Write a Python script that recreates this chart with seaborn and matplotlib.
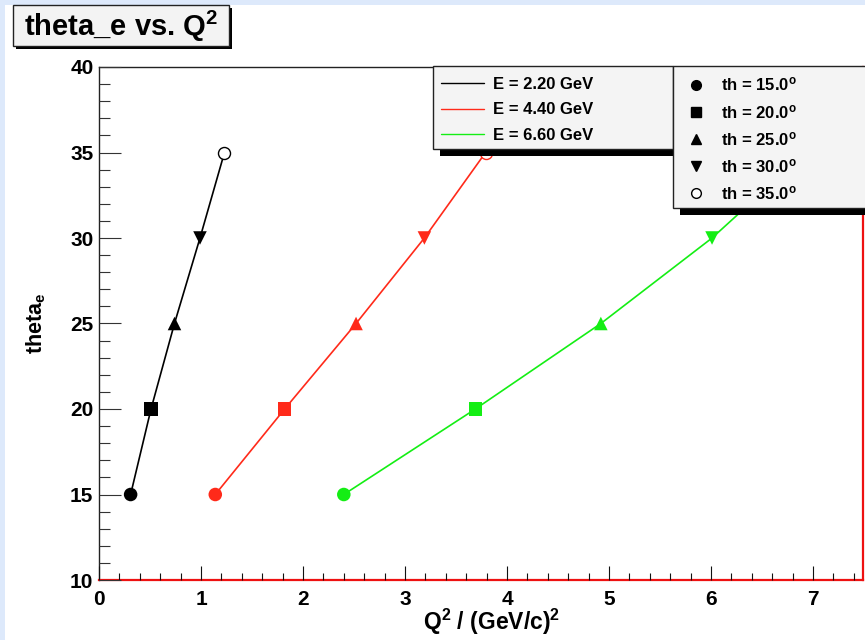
import numpy as np
import pandas as pd
import matplotlib
matplotlib.use("Agg")
import matplotlib.pyplot as plt
from matplotlib.lines import Line2D
from matplotlib.patches import Rectangle
import seaborn as sns

# beam energies (GeV) and scattering angles (deg)
energies = [2.2, 4.4, 6.6]
angles = [15.0, 20.0, 25.0, 30.0, 35.0]

# Q^2, one list per beam energy
q2_e22 = [0.31, 0.51, 0.74, 0.99, 1.23]
q2_e44 = [1.14, 1.82, 2.52, 3.19, 3.79]
q2_e66 = [2.40, 3.69, 4.92, 6.01, 6.93]

energy_colors = ["#000000", "#ff2a1a", "#14ee14"]
angle_markers = {15.0: "o", 20.0: "s", 25.0: "^", 30.0: "v"}

W, H = 865, 640


def px(x, y):
    """pixel position -> figure fraction"""
    return x / W, 1 - y / H


sns.set_theme(style="white")
plt.rcParams["font.family"] = ["Liberation Sans", "DejaVu Sans"]
plt.rcParams["font.weight"] = "bold"
plt.rcParams["text.color"] = "black"
plt.rcParams["axes.labelcolor"] = "black"
plt.rcParams["xtick.color"] = "black"
plt.rcParams["ytick.color"] = "black"
plt.rcParams["axes.axisbelow"] = False
plt.rcParams["mathtext.fontset"] = "custom"
plt.rcParams["mathtext.rm"] = "Liberation Sans:bold"
plt.rcParams["mathtext.it"] = "Liberation Sans:bold"
plt.rcParams["mathtext.bf"] = "Liberation Sans:bold"

rows = []
for e, q2s in zip(energies, [q2_e22, q2_e44, q2_e66]):
    for th, q in zip(angles, q2s):
        rows.append({"energy": e, "theta": th, "q2": q})
df = pd.DataFrame(rows)
palette = dict(zip(energies, energy_colors))

fig = plt.figure(figsize=(W / 100, H / 100), dpi=100, facecolor="#dde9fb")
fig.patches.append(Rectangle(px(5, 640), 1, 1 - 5 / H, transform=fig.transFigure,
                             facecolor="white", edgecolor="none", zorder=-10))

x0, y0 = px(99, 580)
x1, y1 = px(863, 67)
ax = fig.add_axes([x0, y0, x1 - x0, y1 - y0])
ax.set_facecolor("white")

sns.lineplot(data=df, x="q2", y="theta", hue="energy", palette=palette,
             sort=False, legend=False, linewidth=1.2, ax=ax, zorder=2)
sns.scatterplot(data=df[df["theta"] < 35], x="q2", y="theta", hue="energy",
                style="theta", markers=angle_markers, palette=palette,
                s=95, linewidth=0, legend=False, ax=ax, zorder=3)
for e in energies:
    sub = df[(df["energy"] == e) & (df["theta"] == 35.0)]
    ax.scatter(sub["q2"], sub["theta"], s=75, facecolors="white",
               edgecolors=palette[e], linewidths=1.0, zorder=3)

ax.set_xlim(0, 7.49)
ax.set_ylim(10, 40)
ax.set_xticks(np.arange(0, 8, 1))
ax.set_xticks(np.arange(0, 7.5, 0.2), minor=True)
ax.set_yticks(np.arange(10, 41, 5))
ax.set_yticks(np.arange(10, 41, 1), minor=True)
ax.tick_params(bottom=True, left=True, top=False, right=False, which="both")
ax.tick_params(axis="y", which="major", direction="in", length=16, width=0.8,
               color="#333333", labelsize=15, pad=4)
ax.tick_params(axis="y", which="minor", direction="in", length=8, width=0.8,
               color="#333333")
ax.tick_params(axis="x", which="major", direction="in", length=10, width=0.8,
               color="#111111", labelsize=15, pad=7)
ax.tick_params(axis="x", which="minor", direction="in", length=5, width=0.8,
               color="#111111")
for lab in ax.get_xticklabels() + ax.get_yticklabels():
    lab.set_fontweight("bold")

for side in ["left", "top"]:
    ax.spines[side].set_color("#222222")
    ax.spines[side].set_linewidth(1.0)
for side in ["bottom", "right"]:
    ax.spines[side].set_color("#ee1111")
    ax.spines[side].set_linewidth(1.6)

ax.set_xlabel("Q$^2$ / (GeV/c)$^2$", fontsize=16.5, fontweight="bold")
ax.xaxis.set_label_coords((492 - 99) / 764, (580 - 607) / 513)
ax.set_ylabel("theta$_e$", fontsize=15.5, fontweight="bold")
ax.yaxis.set_label_coords((48 - 99) / 764, 0.5)


def shadow_box(xa, ya, xb, yb, off, face):
    sx, sy = px(xa + off, yb + off)
    bx, by = px(xa, yb)
    w, h = (xb - xa) / W, (yb - ya) / H
    fig.patches.append(Rectangle((sx, sy), w, h, transform=fig.transFigure,
                                 facecolor="black", edgecolor="none", zorder=6))
    fig.patches.append(Rectangle((bx, by), w, h, transform=fig.transFigure,
                                 facecolor=face, edgecolor="#222222",
                                 linewidth=1.0, zorder=6))


# title box with shadow
shadow_box(13, 5, 229, 46, 3, "#f3f3f3")
fig.text(*px(121, 26), "theta_e vs. Q$^2$", fontsize=21, fontweight="bold",
         ha="center", va="center", zorder=7)

# legend boxes
shadow_box(433, 66, 673, 149, 7, "#f4f4f4")
shadow_box(673, 66, 880, 208, 7, "#f4f4f4")

e_handles = [Line2D([], [], color=c, lw=1.0) for c in energy_colors]
e_labels = [f"E = {e:.2f} GeV" for e in energies]
leg1 = fig.legend(e_handles, e_labels, loc="center left",
                  bbox_to_anchor=px(441, 110), bbox_transform=fig.transFigure,
                  frameon=False, fontsize=12, handlelength=2.6,
                  handletextpad=0.5, labelspacing=0.62, borderpad=0,
                  borderaxespad=0)
leg1.set_zorder(8)

a_markers = list(angle_markers.values())
a_handles = [Line2D([], [], ls="none", marker=m, color="black", markersize=7)
             for m in a_markers]
a_handles.append(Line2D([], [], ls="none", marker="o", markerfacecolor="white",
                        markeredgecolor="black", markersize=7, markeredgewidth=1.0))
a_labels = [f"th = {a:.1f}$^o$" for a in angles]
leg2 = fig.legend(a_handles, a_labels, loc="center left",
                  bbox_to_anchor=px(688, 139), bbox_transform=fig.transFigure,
                  frameon=False, fontsize=12, handlelength=1.0,
                  handletextpad=1.0, labelspacing=0.55, borderpad=0,
                  borderaxespad=0)
leg2.set_zorder(8)
for t in leg1.get_texts() + leg2.get_texts():
    t.set_fontweight("bold")

fig.savefig("out.png", dpi=100, facecolor=fig.get_facecolor())
